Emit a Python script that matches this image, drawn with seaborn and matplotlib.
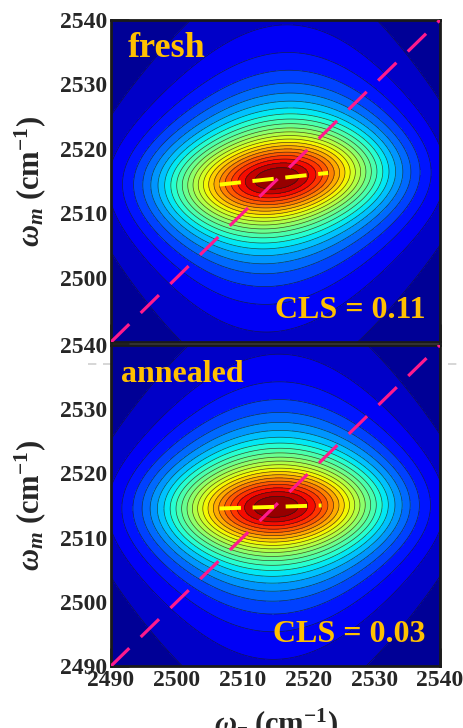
import numpy as np
import pandas as pd
import matplotlib
matplotlib.use("Agg")
import matplotlib.pyplot as plt
from matplotlib.lines import Line2D
import seaborn as sns

# ---------------- data ----------------
panel_names = ["fresh", "annealed"]
cls_values = [0.11, 0.03]
cls_labels = ["CLS = 0.11", "CLS = 0.03"]
peak_tau = [2515.2, 2515.1]      # omega_tau of peak maximum
peak_m = [2515.4, 2514.8]        # omega_m of peak maximum
width_tau = [11.5, 11.5]         # Gaussian width along omega_tau
width_m = [7.8, 7.8]             # Lorentzian width along omega_m
tail_m = [0.02, 0.02]            # extra tail damping along omega_m
coupling = [0.8, 0.8]            # coupling of the two lineshape factors
cls_start_tau = [2506.5, 2506.5] # extent of the centre line
cls_end_tau = [2523.0, 2522.0]
axis_min, axis_max = 2490, 2540
tick_values = [2490, 2500, 2510, 2520, 2530, 2540]
n_levels = 24

# ---------------- style ----------------
sns.set_theme(style="ticks")
plt.rcParams["font.family"] = ["Liberation Serif", "DejaVu Serif"]
plt.rcParams["font.weight"] = "bold"
plt.rcParams["axes.labelweight"] = "bold"
plt.rcParams["mathtext.fontset"] = "custom"
plt.rcParams["mathtext.it"] = "Liberation Serif:italic:bold"
plt.rcParams["mathtext.bfit"] = "Liberation Serif:italic:bold"
plt.rcParams["mathtext.rm"] = "Liberation Serif:bold"
plt.rcParams["mathtext.bf"] = "Liberation Serif:bold"

W, H = 463, 728
fig = plt.figure(figsize=(W / 100, H / 100), dpi=100)
fig.patch.set_facecolor("white")

# faint dashed guide line behind the panels
fig.lines.append(Line2D([88 / W, 1.0], [1 - 364 / H, 1 - 364 / H], transform=fig.transFigure,
                        color="#cfcfcf", lw=1.2, ls=(0, (5, 4)), zorder=-5))

ax_boxes = [
    [111 / W, 1 - 342 / H, 329 / W, 322 / H],
    [111 / W, 1 - 666 / H, 329 / W, 321 / H],
]

grid = np.linspace(axis_min, axis_max, 401)
X, Y = np.meshgrid(grid, grid)
levels = np.linspace(0, 1.0, n_levels + 1)
text_color = "#FFC000"
tick_labels = [str(v) for v in tick_values]

for i, box in enumerate(ax_boxes):
    ax = fig.add_axes(box)
    dx = X - peak_tau[i]
    u = dx / width_tau[i]
    shear = cls_values[i] * dx * np.exp(-u ** 2 / 4)
    v = (Y - peak_m[i] - shear) / width_m[i]
    Z = 1.0 / (np.exp(u ** 2 / 2)
               + (v ** 2 + tail_m[i] * v ** 4) * np.exp(coupling[i] * u ** 2 / 2))
    Z = Z / Z.max()
    ax.contourf(X, Y, Z, levels=levels, cmap="jet")
    ax.contour(X, Y, Z, levels=levels[1:-1], colors="k", linewidths=0.5, alpha=0.75)

    diag = pd.DataFrame({"tau": [axis_min, axis_max], "m": [axis_min, axis_max]})
    sns.lineplot(data=diag, x="tau", y="m", ax=ax, color="#FF1A8C", lw=2.3, zorder=5)
    ax.lines[-1].set_dashes([8, 5])

    xs = np.array([cls_start_tau[i], cls_end_tau[i]])
    cl = pd.DataFrame({"tau": xs, "m": peak_m[i] + cls_values[i] * (xs - peak_tau[i])})
    sns.lineplot(data=cl, x="tau", y="m", ax=ax, color="#FFFF00", lw=2.8, zorder=6)
    ax.lines[-1].set_dashes([5.5, 3])

    ax.set_xlim(axis_min, axis_max)
    ax.set_ylim(axis_min, axis_max)
    ax.set_xticks(tick_values)
    ax.set_xticklabels(tick_labels, fontsize=17, fontweight="bold")
    ax.set_yticks(tick_values)
    ylabs = tick_labels if i == 1 else [""] + tick_labels[1:]
    ax.set_yticklabels(ylabs, fontsize=17, fontweight="bold")
    ax.xaxis.set_minor_locator(matplotlib.ticker.MultipleLocator(2))
    ax.yaxis.set_minor_locator(matplotlib.ticker.MultipleLocator(2))
    ax.tick_params(which="major", direction="in", length=13, width=1.8, color="k",
                   top=False, right=False, pad=3)
    ax.tick_params(which="minor", direction="in", length=6.5, width=1.5, color="k",
                   top=False, right=False)
    for s in ax.spines.values():
        s.set_color("k")
        s.set_linewidth(2)
    ax.set_ylabel(r"$\mathbfit{\omega}_{\mathbfit{m}}$ (cm$^{\mathbf{-1}}$)",
                  fontsize=22, fontweight="bold")
    ax.yaxis.set_label_coords(-0.19, 0.5)
    if i == 0:
        ax.set_xlabel("")
        ax.tick_params(axis="x", labelbottom=False)
        ax.text(0.05, 0.885, panel_names[i], transform=ax.transAxes, fontsize=26,
                fontweight="bold", color=text_color, va="baseline")
    else:
        ax.set_xlabel(r"$\mathbfit{\omega}_{\mathbfit{\tau}}$ (cm$^{\mathbf{-1}}$)",
                      fontsize=22, fontweight="bold")
        ax.xaxis.set_label_coords(0.5, -0.125)
        ax.text(0.03, 0.885, panel_names[i], transform=ax.transAxes, fontsize=23,
                fontweight="bold", color=text_color, va="baseline")
    ax.text(0.955, 0.075, cls_labels[i], transform=ax.transAxes, fontsize=23,
            fontweight="bold", color=text_color, ha="right", va="baseline")

fig.savefig("out.png", dpi=100)
